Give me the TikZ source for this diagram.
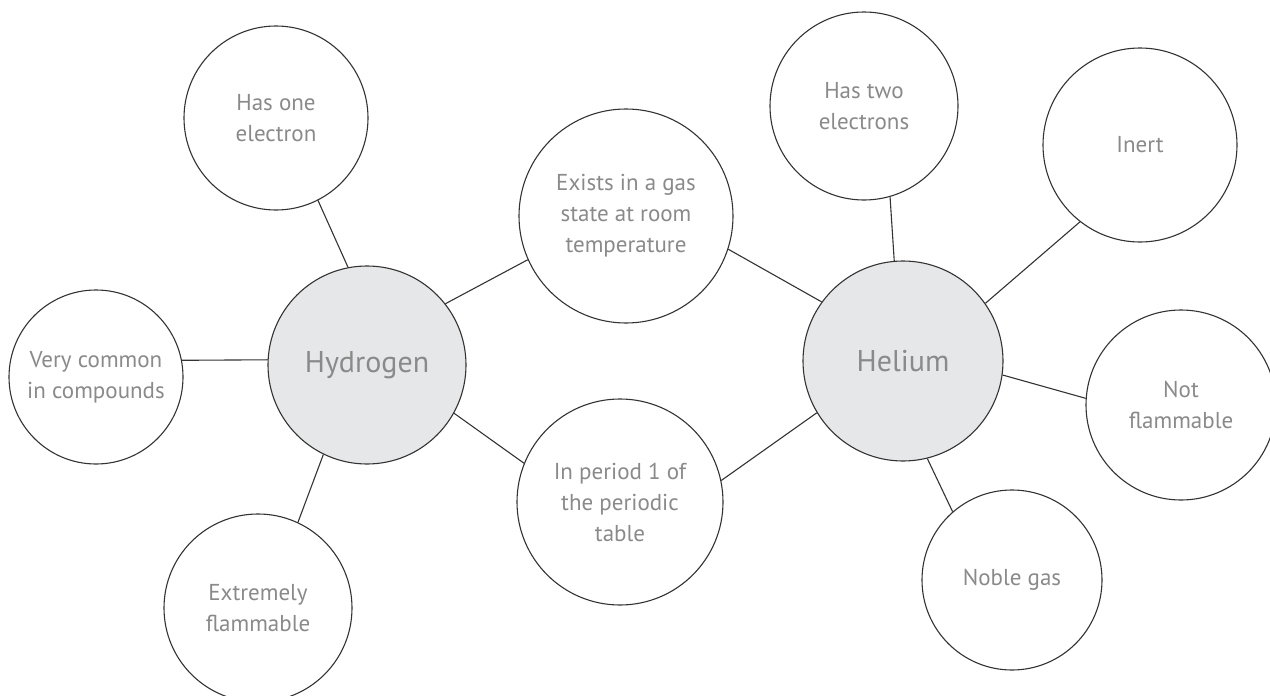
\documentclass[tikz,border=0pt]{standalone}
\usepackage{fontspec}
\setmainfont{PT Sans}
\definecolor{linec}{HTML}{333333}
\definecolor{txtc}{HTML}{8A8A8A}
\definecolor{hubc}{HTML}{E6E7E8}
\tikzset{
  bubble/.style={circle, draw=linec, line width=1.1pt, fill=white, inner sep=0pt,
    align=center, text=txtc, font=\fontsize{23}{31}\selectfont},
  hub/.style={bubble, fill=hubc, font=\fontsize{30}{36}\selectfont},
  link/.style={draw=linec, line width=1.1pt}
}
\begin{document}
\begin{tikzpicture}[x=1pt,y=-1pt]
\useasboundingbox (0,0) rectangle (1270,696);
% hubs
\node[hub, minimum size=198pt] (h)  at (367,365) {Hydrogen};
\node[hub, minimum size=200pt] (he) at (903,361) {Helium};
% hydrogen bubbles
\node[bubble, minimum size=184pt] (one) at (276,118) {Has one\\electron};
\node[bubble, minimum size=174pt] (vc)  at (96,377)  {Very common\\in compounds};
\node[bubble, minimum size=188pt] (ext) at (258,608) {Extremely\\flammable};
% shared
\node[bubble, minimum size=214pt] (exi) at (626,216) {Exists in a gas\\state at room\\temperature};
\node[bubble, minimum size=206pt] (per) at (620,502) {In period 1 of\\the periodic\\table};
% helium bubbles
\node[bubble, minimum size=188pt] (two)   at (864,106)  {Has two\\electrons};
\node[bubble, minimum size=194pt] (inert) at (1140,145) {Inert};
\node[bubble, minimum size=190pt] (notf)  at (1181,405) {Not\\flammable};
\node[bubble, minimum size=180pt] (noble) at (1012,580) {Noble gas};
% connectors
\draw[link] (one.297.7) -- (h.101.1);
\draw[link] (vc.11.7)   -- (h.177);
\draw[link] (ext.65.3)  -- (h.244.5);
\draw[link] (h.38.6)    -- (exi.204.4);
\draw[link] (h.331.4)   -- (per.158.1);
\draw[link] (exi.342.6) -- (he.144);
\draw[link] (per.12.2)  -- (he.211.5);
\draw[link] (two.286.3) -- (he.95.8);
\draw[link] (inert.232.9) -- (he.35.7);
\draw[link] (notf.176.4)  -- (he.352);
\draw[link] (noble.131.4) -- (he.284.7);
\end{tikzpicture}
\end{document}
